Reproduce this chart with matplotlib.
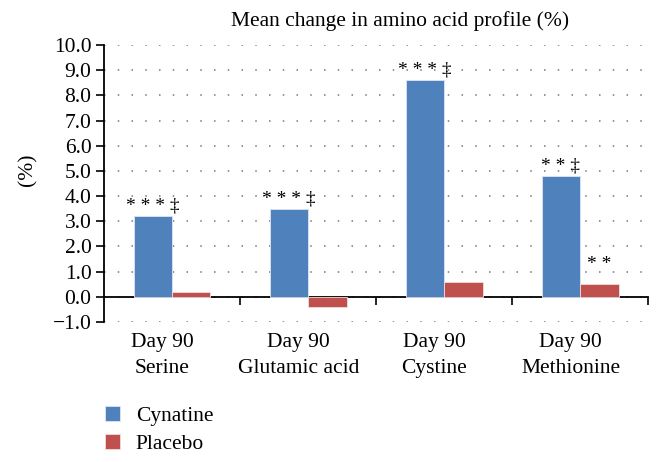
import numpy as np
import matplotlib.pyplot as plt

plt.rcParams['font.family'] = ['Liberation Serif', 'DejaVu Serif']

# data
categories = ['Day 90\nSerine', 'Day 90\nGlutamic acid', 'Day 90\nCystine', 'Day 90\nMethionine']
cynatine = [3.2, 3.5, 8.6, 4.8]
placebo = [0.2, -0.4, 0.6, 0.5]
cynatine_marks = ['* * * \u2021', '* * * \u2021', '* * * \u2021', '* * \u2021']
placebo_marks = ['', '', '', '* *']

blue = '#4F81BD'
red = '#C0504D'
fs = 15.5

fig = plt.figure(figsize=(6.62, 4.62), dpi=100)
ax = fig.add_axes([0.1571, 0.3030, 0.8218, 0.5996])

x = np.arange(len(categories)) + 0.5
w = 0.283

b1 = ax.bar(x - w/2, cynatine, w, color=blue, edgecolor='#DCE6F2', linewidth=0.6, zorder=3)
b2 = ax.bar(x + w/2, placebo, w, color=red, edgecolor='#F2DCDB', linewidth=0.6, zorder=3)

# significance marks above the bars
for xi, v, s in zip(x - w/2, cynatine, cynatine_marks):
    ax.annotate(s, xy=(xi, v), xytext=(0, 1), textcoords='offset points',
                ha='center', va='bottom', fontsize=14)
for xi, v, s in zip(x + w/2, placebo, placebo_marks):
    if s:
        ax.annotate(s, xy=(xi, v), xytext=(0, 8), textcoords='offset points',
                    ha='center', va='bottom', fontsize=14)

ax.set_xlim(0, len(categories))
ax.set_ylim(-1.0, 10.0)
ax.set_yticks(np.arange(-1, 11, 1.0))
ax.set_yticklabels([f'{t:.1f}'.replace('-', '\u2212') for t in np.arange(-1, 11, 1.0)], fontsize=fs)
ax.tick_params(axis='y', direction='out', length=6, width=1.2, pad=3)

ax.yaxis.grid(True, linestyle=(0, (1, 8)), color='#777777', linewidth=1.1)
ax.set_axisbelow(True)

ax.spines['top'].set_visible(False)
ax.spines['right'].set_visible(False)
ax.spines['left'].set_linewidth(1.3)
ax.spines['bottom'].set_position(('data', 0))
ax.spines['bottom'].set_linewidth(1.3)
ax.set_xticks(np.arange(1, len(categories) + 1))
ax.tick_params(axis='x', direction='out', length=6, width=1.2, labelbottom=False)

for xi, lab in zip(x, categories):
    ax.text(xi - 0.07, -0.04, lab, transform=ax.get_xaxis_transform(),
            ha='center', va='top', fontsize=fs, linespacing=1.5)

ax.set_ylabel('(%)', fontsize=fs)
ax.yaxis.set_label_coords(-0.123, 0.549)
ax.set_title('Mean change in amino acid profile (%)', fontsize=fs, x=0.544, pad=14)

fig.legend([b1, b2], ['Cynatine', 'Placebo'], loc='upper left',
           bbox_to_anchor=(0.158, 0.121), frameon=False, fontsize=fs,
           handlelength=0.7, handleheight=0.7, handletextpad=0.75,
           labelspacing=0.35, borderpad=0, borderaxespad=0)

fig.savefig('out.png', dpi=100)
